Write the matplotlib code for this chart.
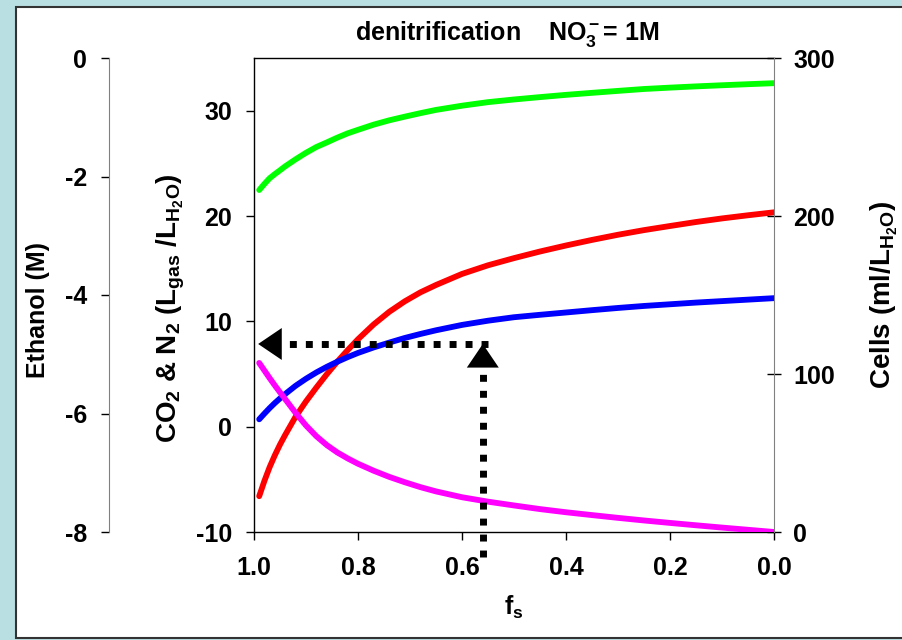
import matplotlib
matplotlib.use('Agg')
import matplotlib.pyplot as plt
from matplotlib.patches import Rectangle
from matplotlib.ticker import FormatStrFormatter

plt.rcParams['font.family'] = ['Liberation Sans', 'DejaVu Sans']
plt.rcParams['font.weight'] = 'bold'
plt.rcParams['font.size'] = 18
plt.rcParams['axes.unicode_minus'] = False
plt.rcParams['mathtext.fontset'] = 'custom'
plt.rcParams['mathtext.rm'] = 'Liberation Sans:bold'
plt.rcParams['mathtext.it'] = 'Liberation Sans:bold'
plt.rcParams['mathtext.bf'] = 'Liberation Sans:bold'
plt.rcParams['mathtext.default'] = 'rm'

# fraction of electrons going to cell synthesis
fs = [0.99, 0.98, 0.97, 0.96, 0.95, 0.94, 0.92, 0.90, 0.88, 0.86, 0.84,
      0.82, 0.80, 0.77, 0.74, 0.71, 0.68, 0.65, 0.60, 0.55, 0.50, 0.45,
      0.40, 0.35, 0.30, 0.25, 0.20, 0.15, 0.10, 0.05, 0.00]
# ethanol (M)
ethanol = [-2.228, -2.125, -2.030, -1.960, -1.895, -1.828, -1.710, -1.600,
           -1.502, -1.425, -1.345, -1.272, -1.212, -1.125, -1.052, -0.990,
           -0.931, -0.876, -0.805, -0.745, -0.700, -0.660, -0.622, -0.588,
           -0.555, -0.523, -0.500, -0.479, -0.460, -0.442, -0.425]
# CO2 (L gas / L H2O)
co2 = [-6.6, -5.15, -3.85, -2.72, -1.7, -0.78, 0.95, 2.4, 3.72, 4.98, 6.16,
       7.26, 8.3, 9.7, 10.9, 11.9, 12.75, 13.45, 14.5, 15.32, 16.0, 16.63,
       17.2, 17.73, 18.22, 18.66, 19.05, 19.43, 19.77, 20.07, 20.35]
# N2 (L gas / L H2O)
n2 = [0.7, 1.24, 1.76, 2.24, 2.68, 3.1, 3.88, 4.55, 5.15, 5.68, 6.16,
      6.6, 7.0, 7.52, 7.98, 8.42, 8.8, 9.15, 9.66, 10.06, 10.39, 10.62,
      10.84, 11.06, 11.27, 11.46, 11.62, 11.78, 11.92, 12.06, 12.2]
# cells (ml / L H2O)
cells = [107.0, 102.2, 97.4, 92.8, 88.4, 84.1, 75.4, 67.4, 60.6, 55.0, 50.4,
         46.6, 43.2, 38.8, 34.9, 31.5, 28.4, 25.7, 22.0, 19.2, 16.8, 14.5,
         12.5, 10.7, 8.95, 7.3, 5.75, 4.25, 2.8, 1.4, 0.0]

fs_ticks = [1.0, 0.8, 0.6, 0.4, 0.2, 0.0]
gas_ticks = [-10, 0, 10, 20, 30]
ethanol_ticks = [0, -2, -4, -6, -8]
cell_ticks = [0, 100, 200, 300]

# dotted read-off arrow
arrow_fs = 0.56
arrow_level = 7.85

W, H = 903, 640
LW = 4.2
fig = plt.figure(figsize=(W / 100, H / 100), dpi=100)
fig.patch.set_facecolor('#b9dfe2')
fig.add_artist(Rectangle((16 / W, 2 / H), 1.0, 631 / H, transform=fig.transFigure,
                         facecolor='white', edgecolor='#333333', lw=1.5, zorder=-1))

ax = fig.add_axes([254 / W, 108 / H, 520 / W, 474 / H])
ax.set_facecolor('none')
ax.set_xlim(1.0, 0.0)
ax.set_ylim(-10, 35)
ax.set_xticks(fs_ticks)
ax.set_yticks(gas_ticks)
ax.xaxis.set_major_formatter(FormatStrFormatter('%.1f'))
ax.spines['right'].set_visible(False)
for s in ['left', 'top', 'bottom']:
    ax.spines[s].set_linewidth(1.0)
ax.tick_params(axis='x', direction='out', length=6, width=1, pad=11)
ax.tick_params(axis='y', direction='out', length=6, width=1, pad=10)
ax.plot(fs, co2, color='#ff0000', lw=LW, solid_capstyle='round')
ax.plot(fs, n2, color='#0000ff', lw=LW, solid_capstyle='round')

# ethanol axis, set off to the left
axe = ax.twinx()
axe.set_ylim(-8, 0)
axe.set_yticks(ethanol_ticks)
for s in ['right', 'top', 'bottom']:
    axe.spines[s].set_visible(False)
axe.spines['left'].set_visible(True)
axe.spines['left'].set_position(('axes', -145 / 520))
axe.spines['left'].set_color('#808080')
axe.yaxis.set_ticks_position('left')
axe.tick_params(axis='y', direction='out', length=6, width=1, pad=10)
axe.plot(fs, ethanol, color='#00ff00', lw=LW, solid_capstyle='round')

# cells axis on the right
axc = ax.twinx()
axc.set_ylim(0, 300)
axc.set_yticks(cell_ticks)
for s in ['left', 'top', 'bottom']:
    axc.spines[s].set_visible(False)
axc.spines['right'].set_color('#808080')
axc.tick_params(axis='y', direction='inout', length=10, width=1, pad=9)
axc.plot(fs, cells, color='#ff00ff', lw=LW, solid_capstyle='round')

# arrows drawn in CO2/N2 data coordinates on top of everything
dots = dict(color='black', lw=5, linestyle=(0, (1, 1.3)), dash_capstyle='butt',
            transform=ax.transData, clip_on=False)
axc.plot([arrow_fs, arrow_fs], [-12.4, 5.7], **dots)
axc.plot([arrow_fs - 0.01, 0.95], [arrow_level, arrow_level], **dots)
head = dict(arrowstyle='-|>,head_length=1.7,head_width=1.15', color='black',
            lw=0, shrinkA=0, shrinkB=0, mutation_scale=10)
axc.annotate('', xy=(arrow_fs, arrow_level), xytext=(arrow_fs, 5.6),
             xycoords=ax.transData, textcoords=ax.transData, arrowprops=head)
axc.annotate('', xy=(0.992, arrow_level), xytext=(0.948, arrow_level),
             xycoords=ax.transData, textcoords=ax.transData, arrowprops=head)

fig.text(355 / W, 1 - 34 / H, 'denitrification    NO$_3^-$= 1M',
         ha='left', va='center')
fig.text(38 / W, 1 - 310 / H, 'Ethanol (M)', rotation=90, ha='center', va='center')
fig.text(171 / W, 1 - 308 / H, r'CO$_2$ & N$_2$ (L$_{gas}$ /L$_{H_2O}$)',
         rotation=90, ha='center', va='center', fontsize=20)
fig.text(884 / W, 1 - 295 / H, r'Cells (ml/L$_{H_2O}$)', rotation=90,
         ha='center', va='center', fontsize=20)
fig.text(514 / W, 1 - 607 / H, r'f$_s$', ha='center', va='center')

fig.savefig('out.png', dpi=100, facecolor=fig.get_facecolor())
